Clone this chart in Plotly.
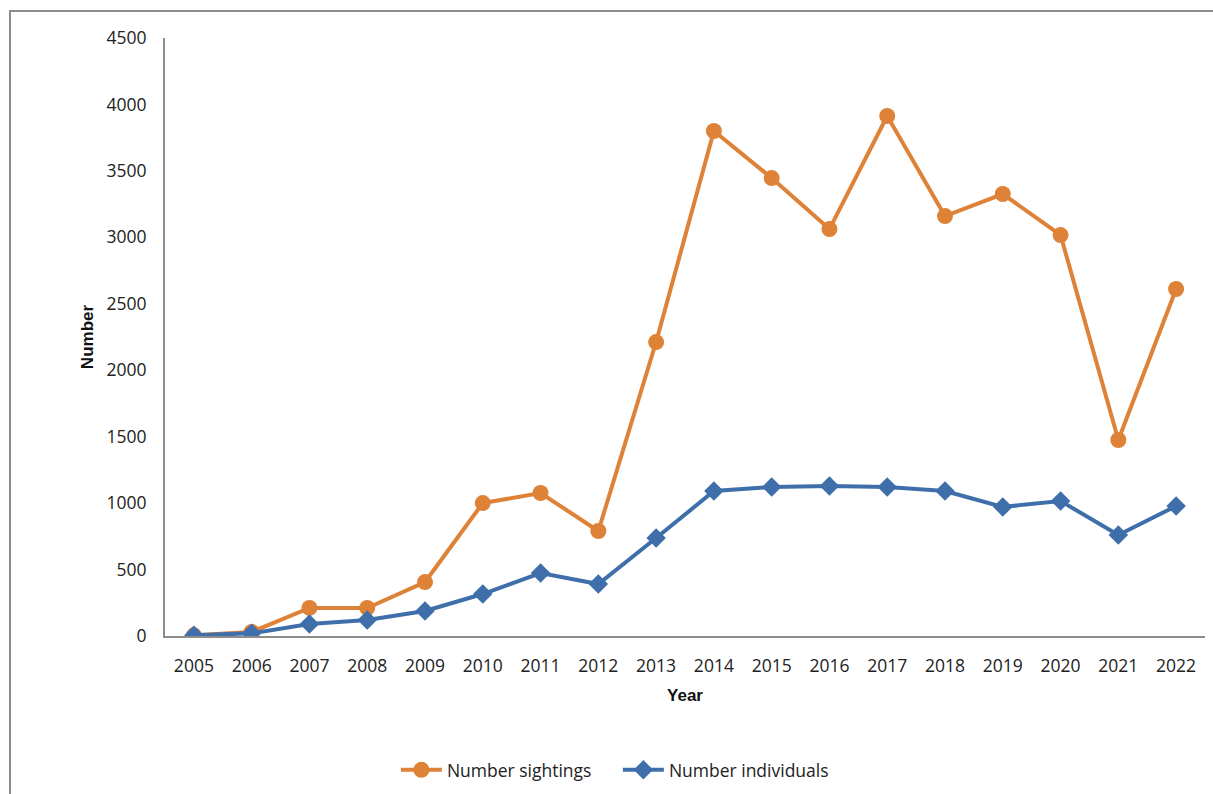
import plotly.graph_objects as go

years = [str(y) for y in range(2005, 2023)]
sightings = [5, 30, 211, 211, 406, 1000, 1076, 790, 2212, 3800, 3446, 3062, 3913, 3160, 3326, 3017, 1475, 2611]
individuals = [5, 20, 90, 120, 188, 316, 474, 391, 737, 1091, 1121, 1129, 1121, 1091, 971, 1016, 760, 978]

orange = "#DE8238"
blue = "#3F6FAA"

fig = go.Figure()
fig.add_trace(go.Scatter(
    x=years, y=sightings, name="Number sightings", mode="lines+markers",
    line=dict(color=orange, width=4), marker=dict(symbol="circle", size=16, color=orange)))
fig.add_trace(go.Scatter(
    x=years, y=individuals, name="Number individuals", mode="lines+markers",
    line=dict(color=blue, width=4), marker=dict(symbol="diamond", size=15, color=blue)))

tickfont = dict(family="Open Sans", size=17.5, color="#222222")
fig.update_layout(
    width=1213, height=794,
    margin=dict(l=165, r=8, t=38, b=158, autoexpand=False),
    paper_bgcolor="white", plot_bgcolor="white",
    showlegend=True,
    legend=dict(orientation="h", x=0.222, xanchor="left", y=-0.224, yanchor="middle",
                font=dict(family="Open Sans", size=17.5, color="#222222"),
                itemwidth=41, entrywidth=166, entrywidthmode="pixels", tracegroupgap=0),
    xaxis=dict(type="category", range=[-0.5, 17.5], showline=True, linecolor="#8C8C8C", linewidth=2,
               showgrid=False, ticks="", tickfont=tickfont, ticklabelstandoff=13, automargin=False,
               title=dict(text="<b>Year</b>", font=dict(family="Liberation Sans", size=17, color="#111111"),
                          standoff=13)),
    yaxis=dict(range=[0, 4500], dtick=500, showline=True, linecolor="#8C8C8C", linewidth=2,
               showgrid=False, zeroline=False, ticks="", tickfont=tickfont, ticklabelstandoff=13,
               automargin=False,
               title=dict(text="<b>Number</b>", font=dict(family="Liberation Sans", size=17, color="#111111"),
                          standoff=9)),
    shapes=[dict(type="rect", xref="paper", yref="paper",
                 x0=-155/1040, x1=1.2, y0=-0.5, y1=(636-11)/598,
                 line=dict(color="#8C8C8C", width=2), fillcolor="rgba(0,0,0,0)", layer="below")],
)

fig.write_html("out.html", config={"displayModeBar": False},
               post_script="document.body.style.margin='0';document.body.style.overflow='hidden';")
